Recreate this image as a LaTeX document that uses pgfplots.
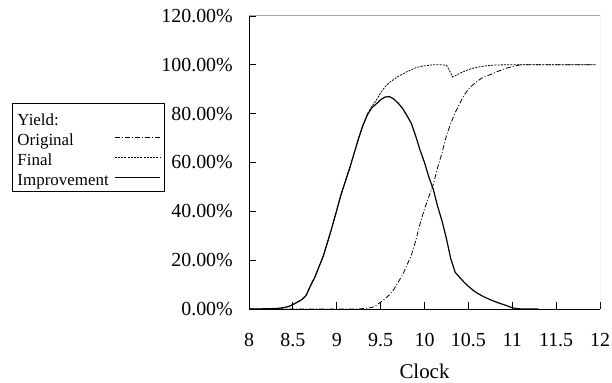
\documentclass[border=0pt]{standalone}
\usepackage{pgfplots}
\pgfplotsset{compat=1.18}
\usepackage{pgfplotstable}
\usepackage{fontspec}
\setmainfont{Liberation Serif}

\pgfplotstableread{
x y
8.00 0
8.10 0
8.20 0.1
8.30 0.2
8.35 0.3
8.40 0.6
8.45 1.0
8.50 1.8
8.55 2.8
8.60 3.8
8.65 5.5
8.70 9.5
8.75 13
8.80 17.5
8.85 22
8.90 28
8.95 34
9.00 40.5
9.05 47
9.10 52.5
9.15 58
9.20 64
9.25 70
9.30 75.5
9.35 80
9.40 83
9.45 85.5
9.50 88.5
9.55 91
9.60 92.8
9.65 94
9.70 95.3
9.75 96.2
9.80 97.2
9.85 98
9.90 98.8
9.95 99.3
10.00 99.6
10.05 99.8
10.10 100
10.15 100
10.20 100
10.25 99.8
10.28 98
10.32 95
10.35 95.5
10.40 96.5
10.45 97.3
10.50 98
10.55 98.6
10.60 99
10.70 99.6
10.80 99.9
10.90 100
11.00 100
11.50 100
11.95 100
}\finaltab

\pgfplotstableread{
x y
8.00 0
8.50 0
9.00 0
9.25 0
9.30 0.2
9.35 0.4
9.40 0.6
9.45 1.5
9.50 2.8
9.55 4.2
9.60 5.8
9.65 8
9.70 11
9.75 14
9.80 18
9.85 22
9.90 28
9.95 35
10.00 41
10.05 46
10.10 51
10.15 58
10.20 64
10.25 71
10.30 76
10.35 80.5
10.40 84
10.45 87.5
10.50 90
10.55 91.8
10.60 93.2
10.65 94.5
10.70 95.3
10.75 96
10.80 96.8
10.85 97.5
10.90 98.2
10.95 98.8
11.00 99.3
11.05 99.7
11.10 100
11.95 100
}\origtab

\pgfplotstableread{
x y
8.00 0
8.10 0
8.20 0.1
8.30 0.2
8.35 0.3
8.40 0.6
8.45 1.0
8.50 1.8
8.55 2.8
8.60 3.8
8.65 5.5
8.70 9.5
8.75 13
8.80 17.5
8.85 22
8.90 28
8.95 34
9.00 40.5
9.05 47
9.10 52.5
9.15 58
9.20 64
9.25 70
9.30 75.3
9.35 79.6
9.40 82.4
9.45 84
9.50 85.7
9.55 86.8
9.60 87
9.65 86
9.70 84.3
9.75 82.2
9.80 79.2
9.85 76
9.90 70.8
9.95 65
10.00 60
10.05 54
10.10 49
10.15 42
10.20 36
10.25 28.8
10.30 20.5
10.35 15
10.40 13
10.45 11
10.50 9.3
10.55 7.8
10.60 6.5
10.65 5.5
10.70 4.6
10.75 3.8
10.80 3.1
10.85 2.4
10.90 1.8
10.95 1.2
11.00 0.5
11.05 0.2
11.10 0
11.30 0
}\imptab

\begin{document}
\begin{tikzpicture}
\path[use as bounding box] (0,0) rectangle (612bp,383bp);
\begin{axis}[
  at={(249bp,74bp)}, anchor=south west,
  width=351bp, height=293bp, scale only axis,
  xmin=8, xmax=12, ymin=0, ymax=120,
  axis lines*=left,
  axis line style={black, line width=1bp},
  tick align=inside,
  major tick length=7bp,
  tick style={black, line width=0.8bp},
  xtick={8,8.5,...,12},
  ytick={0,20,...,120},
  /pgf/number format/assume math mode=true,
  yticklabel={\pgfmathprintnumber[fixed,fixed zerofill,precision=2]{\tick}\%},
  yticklabel style={anchor=east, inner sep=0pt, xshift=-16bp, font=\fontsize{20}{22}\selectfont},
  xticklabel style={anchor=north, inner sep=0pt, yshift=-24bp, font=\fontsize{20}{22}\selectfont},
  xlabel={Clock},
  xlabel style={at={(axis description cs:0.5,0)}, anchor=north, inner sep=0pt, yshift=-55bp, font=\fontsize{21}{23}\selectfont},
  no markers,
  legend cell align=left,
  legend plot pos=right,
  legend image code/.code={\draw[#1] (5bp,0bp) -- (50bp,0bp);},
  legend style={at={(axis description cs:-0.675,0.703)}, anchor=north west,
    draw=black, line width=0.8bp, font=\fontsize{17}{19}\selectfont,
    inner xsep=4bp, inner ysep=4bp, row sep=0bp,
    nodes={inner sep=1bp, text height=17bp, text depth=1bp}},
]
\addlegendimage{empty legend}
\addlegendentry{Yield:}
\addplot[black, line width=0.8bp, dash pattern=on 5bp off 2bp on 1bp off 2bp] table {\origtab};
\addlegendentry{Original}
\addplot[black, line width=0.8bp, dash pattern=on 2bp off 1.2bp] table {\finaltab};
\addlegendentry{Final}
\addplot[black, line width=1.2bp] table {\imptab};
\addlegendentry{Improvement}
\draw[gray!70, line width=1bp] (rel axis cs:0,1) -- (rel axis cs:1,1) -- (rel axis cs:1,0);
\end{axis}
\end{tikzpicture}
\end{document}
